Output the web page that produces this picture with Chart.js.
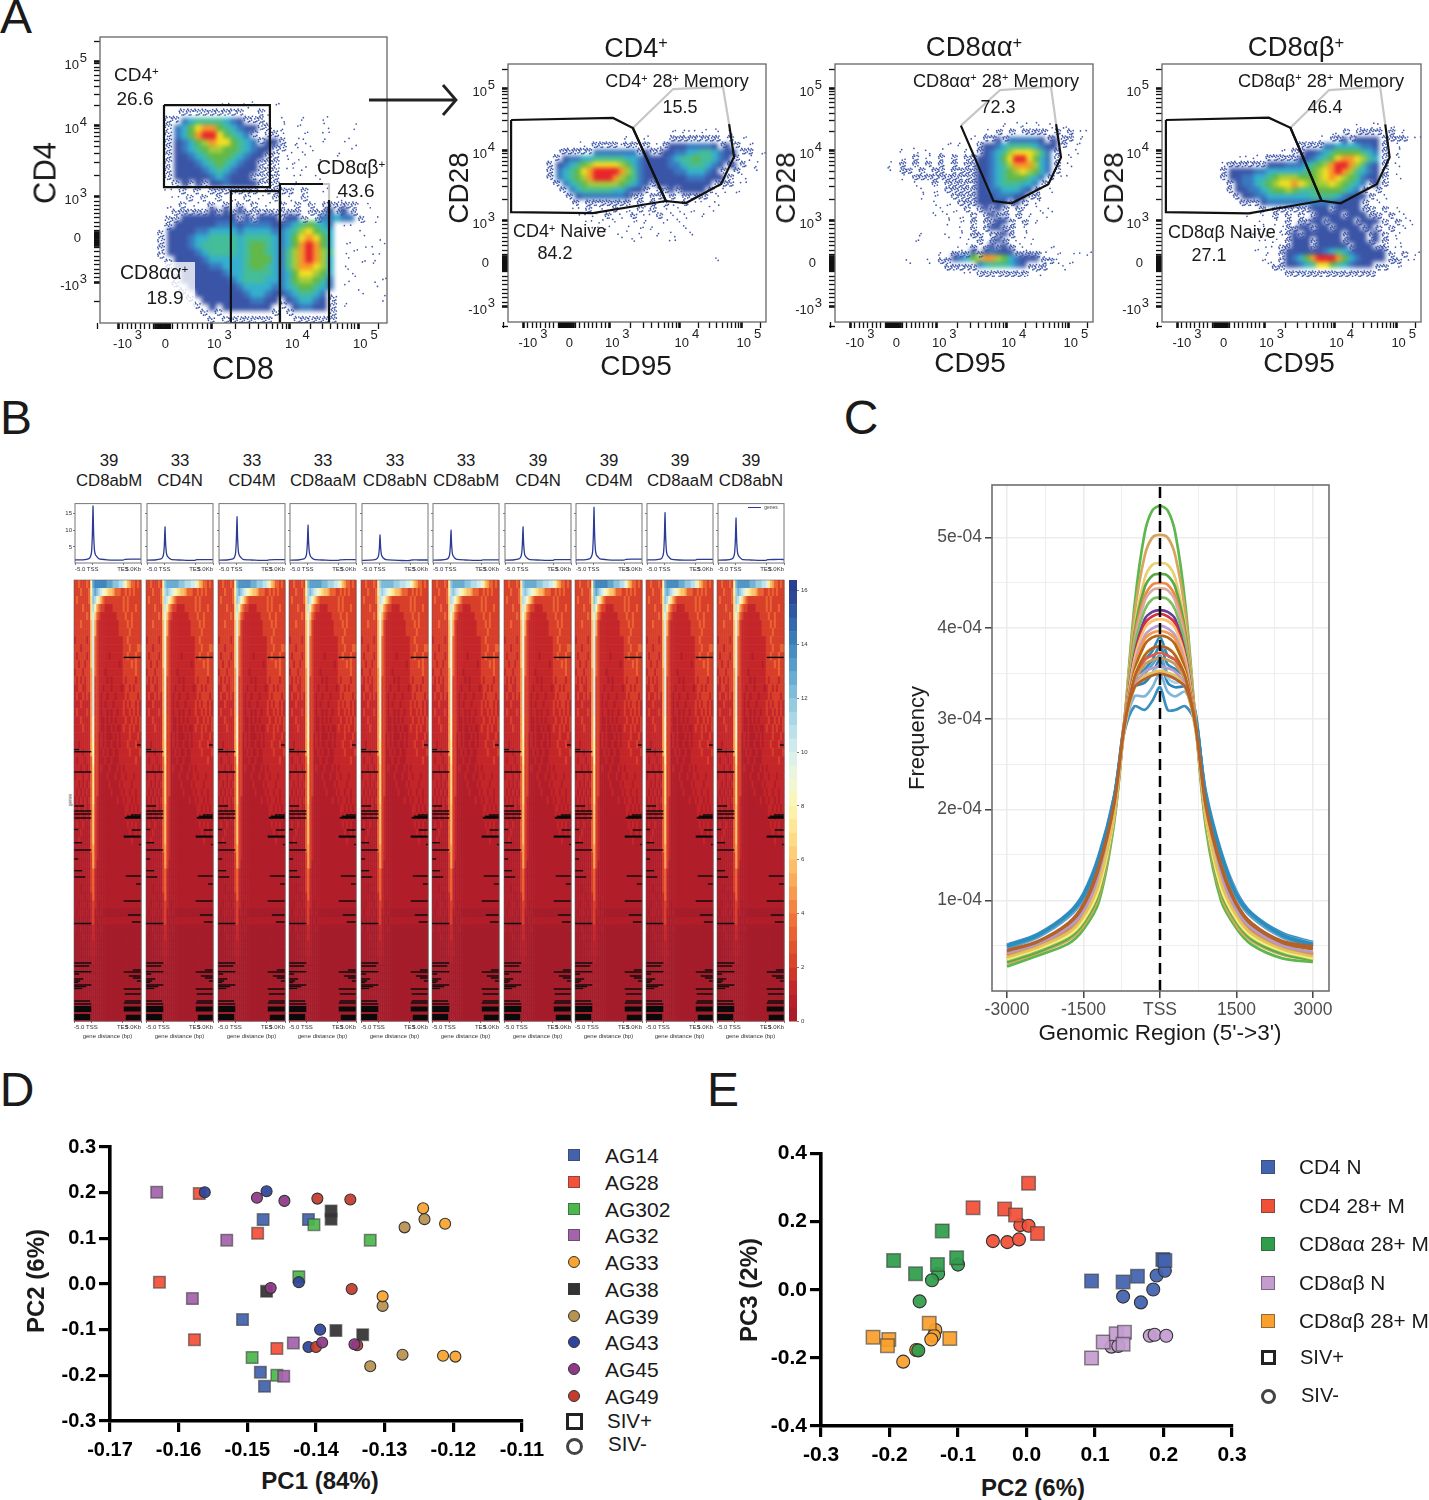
<!DOCTYPE html>
<html>
  <head>
    <meta charset="UTF-8" />
    <title>Flow gating, ATAC heatmaps and PCA panels</title>
    <script src="https://cdn.jsdelivr.net/npm/chart.js"></script>
    <style>
      html, body { margin: 0; padding: 0; background: #fff; }
      #page {
        position: relative; width: 1429px; height: 1500px; overflow: hidden;
        font-family: "Liberation Sans", Arial, sans-serif; color: #1a1a1a;
      }
      .t { position: absolute; white-space: nowrap; line-height: 1; }
      .t sup { font-size: 0.6em; line-height: 0; vertical-align: 0.5em; }
      .mk { position: absolute; box-sizing: border-box; }
      canvas { position: absolute; }
    </style>
  </head>
  <body>
    <div id="page"></div>
    <script>
      // ---------- panel A: density grids (40 x 40 cells over the plot)
      // digit = density level, "," = speckled events, "." = a few stray events
      const densityCD8 = [
        "", "", "", "", "", "", "", "", "",
        "                 .  ..  .",
        "           111111111  ,.",
        "         112344443211,,  .  .  .",
        "         1235788543211,, . .   .   .",
        "         1235899754321 1,.  .  .",
        "         1123568775432111, ..  .  .",
        "         112345665543211,, . .     .",
        "         11123455543211,, . .    .",
        "         1111234543211,,, ..  .",
        "         1111123432111,,, . .",
        "         111111232111,,,,  .  .",
        "          ,111111211111,,  .",
        "         . , , ,,,1,,, ,,,, ,  .",
        "          . , , , . , . , . ,    .",
        "         . , . , , , , . , , , ,,,,, .",
        "          ,,1,,1,1,1,,1,1,,1 ,1,1,1,",
        "         ,,11111111,1,111,111 1223221 .",
        "         1111111222122221" + "12345432 .",
        "        11111223333233332" + "23467543   .   .",
        "        11112334444344443" + "23578753 .    .",
        "        11112344444345543" + "23589853  . .    .",
        "        11111234444345543" + "24689864 .   .   .",
        "         1111123333345553" + "24689863   . .",
        "         1111112233345543" + "24688763 .      . .",
        "          111111123344443" + "23577653  .   .  .",
        "          111111112344433" + "23566542 .   .",
        "           11111111233332" + "23455432   .",
        "            1111111123321" + "12344321      .  .",
        "             111111112211" + "11233211 .",
        "              11111111111" + " 1122111",
        "               , 1111111" + "   111111",
      ];
      const densityCD4 = [
        "", "", "", "", "", "", "", "", "", "",
        "                         . .. . . .",
        "                  .  .   ,,,,,,,, , .",
        "           . ,,,,.,,.1 .111122221111 .",
        "        111112222222111111223344321111 .",
        "       11223344444332111123445443211 .",
        "      1123456777765321111223444321111 .",
        "      1234578999986421111122333211 ,  .",
        "      12345689998654211111112221111 .",
        "       1234566666543211111111111111 .",
        "        12344444332111 111111111 . .",
        "         112222222111 ,, , ,,,, .",
        "          , ,,,,,,, , , ,. , .  .",
        "          . , . , . ,., . . .  .",
        "           . . , . , . , . .  .",
        "            . . .  . .  . .",
        "             . .  . . .    .",
        "                 .  .  . .  .",
        "                   .     .",
        "", "",
        "                                .",
      ];
      const densityAA = [
        "", "", "", "", "", "", "", "", "",
        "                          . .. . . .",
        "                       . , , ,,,, , , .",
        "                     . ,111222221111, .",
        "                 . .  " + "11123444432111 .",
        "          . . . .   . " + "1123467776421  .",
        "          . , . , , ,," + "1123579975321 .",
        "        . , , , , , ,," + "1123468886321 .",
        "        . ,, , ,, ,,,," + "1123456765321",
        "          . ,,,,,,,,,," + "112345554321 .",
        "            .  , ,,,,," + "11234443321",
        "             . . ,,,,," + "1122333211 .",
        "             . .  ,,,," + "1112221111",
        "               . . ,,," + "11111111 .",
        "                . . , ,1,1, ,. . .",
        "               . . . , 11,1 , . .",
        "                 . . , 1,11, , .",
        "                   . , 111,, .",
        "             .   . . ,, 1,1, .",
        "            .       . , 11, . .",
        "                   . , ,1,1, .   .",
        "                . ,,,1112111,,,,. .  . .",
        "           .  . ,1123568865321111,. .",
        "                 ,11112344432111,  .",
        "                    . ,,,,,,,, .",
      ];
      const densityAB = [
        "", "", "", "", "", "", "", "", "",
        "                              . .. .",
        "                          . , ,,,, , .",
        "                        . ,1111111111, .",
        "                     11112233332211 .",
        "                  . ,," + "1123455554321 .",
        "            . . ,,,,,1" + "1234578876431 .",
        "         .,,1111111222" + "3456899864211 .",
        "         1111122333333" + "4567898643211",
        "         1112233456665" + "5567876542111 .",
        "          112234567787" + "6566765432111",
        "          111223455654" + "4455554321 ,",
        "           11122333333" + "34444321111 .",
        "            1111222222" + "2222211111 .",
        "               , ,,,,," + "1111,1111,1 , .",
        "             . . , , , ,1111,111,1 , .",
        "               . . , ,111,1111,111, , .",
        "               .  .,111,11,1111,11 , .",
        "              . . .,1,111111,111,11 .",
        "               . . 1111,1111,111,1, .",
        "              . . ,,111,11111,111,, .",
        "                . ,11111123432111111 , .",
        "               .. 1123589998532111111 .",
        "                 111123477543211111 .",
        "                   ,,,,,,,,,,,,,,",
      ];
      // where the events of a speckled cell fall inside it
      const strayOffsets = [[-0.38, 0.12], [0.21, -0.33], [-0.07, 0.41], [0.36, 0.27], [-0.26, -0.41], [0.08, -0.04], [0.44, -0.18], [-0.44, -0.12], [0.17, 0.38], [-0.16, -0.21]];
      // decade positions on the biexponential channel axis (-10^3, 0, 10^3, 10^4, 10^5)
      const channelTicksAx = [63, 219, 390, 662, 899];
      const channelTicksAy = [143, 294, 441, 692, 916];
      const channelTicks = [60, 228, 395, 665, 905];
      const decadeLabels = [["-10", "3"], ["0", ""], ["10", "3"], ["10", "4"], ["10", "5"]];
      const densityLevelColors = ["#3a54a6", "#3a78bf", "#35b0cc", "#45bd98", "#62b848", "#a4cc3a", "#f3df22", "#f6982a", "#e8242c"];

      // gates in channel units
      const gateCD4Cells = [[223, 762], [592, 762], [592, 475], [223, 475], [223, 762]];
      const gateAACells = [[456, 0], [456, 461], [627, 461], [627, 0], [456, 0]];
      const gateABBlack1 = [[777, 486], [627, 486], [627, 0], [798, 0], [798, 430]];
      const gateABGrey = [[798, 430], [798, 486], [777, 486]];
      const gateNaive = [[12, 783], [407, 791], [484, 752], [612, 469], [329, 422], [12, 426], [12, 783]];
      const gateMemBlack = [[484, 752], [612, 469], [690, 461], [826, 535], [876, 640], [857, 767]];
      const gateMemGrey = [[857, 767], [833, 911], [640, 903], [484, 752]];
      const gateAAMemBlack = [[488, 761], [614, 469], [685, 460], [827, 534], [876, 638], [857, 767]];
      const gateAAMemGrey = [[857, 767], [837, 912], [640, 899], [488, 761]];
      const gateABNaive = [[15, 783], [412, 792], [496, 753], [616, 470], [335, 421], [15, 426], [15, 783]];
      const gateABMemBlack = [[496, 753], [616, 470], [690, 460], [829, 534], [879, 638], [862, 766]];
      const gateABMemGrey = [[862, 766], [842, 912], [645, 899], [496, 753]];

      // ---------- panel B
      const panelNames = ["CD8abM", "CD4N", "CD4M", "CD8aaM", "CD8abN", "CD8abM", "CD4N", "CD4M", "CD8aaM", "CD8abN"];
      const panelDonors = ["39", "33", "33", "33", "33", "33", "39", "39", "39", "39"];
      const ridgeGain = [1, 0.88, 0.96, 0.92, 0.84, 0.88, 0.88, 1, 0.98, 0.95];
      const profileBins = [0, 4, 7, 7.8, 8.3, 8.7, 9, 9.3, 9.7, 10.2, 11, 12, 16, 20, 24, 25, 28, 33];
      const profileValues = [
        [1.1, 1.15, 1.5, 2.2, 3.6, 9, 17.2, 9.5, 4.2, 2.7, 2, 1.4, 1.15, 1.05, 1.05, 1.3, 1.35, 1.35],
        [1.05, 1.1, 1.4, 1.9, 2.9, 6, 11, 6.2, 3.2, 2.2, 1.7, 1.3, 1.1, 1, 1, 1.2, 1.2, 1.2],
        [1.05, 1.1, 1.4, 2, 3.2, 7.5, 14, 7.8, 3.6, 2.4, 1.8, 1.3, 1.1, 1, 1, 1.15, 1.2, 1.2],
        [1.05, 1.1, 1.4, 1.9, 3, 6.3, 11.5, 6.5, 3.3, 2.3, 1.7, 1.3, 1.1, 1, 1, 1.15, 1.2, 1.2],
        [1, 1.05, 1.3, 1.7, 2.5, 4.8, 8.6, 5, 2.7, 2, 1.5, 1.2, 1.05, 0.95, 0.95, 1.1, 1.1, 1.1],
        [1.05, 1.1, 1.35, 1.8, 2.7, 5.6, 10, 5.8, 3, 2.2, 1.6, 1.25, 1.1, 1, 1, 1.15, 1.15, 1.15],
        [1.05, 1.1, 1.4, 1.9, 2.9, 6, 11, 6.2, 3.2, 2.2, 1.7, 1.3, 1.1, 1, 1, 1.2, 1.2, 1.2],
        [1.1, 1.15, 1.5, 2.2, 3.5, 8.8, 16.8, 9.2, 4.1, 2.6, 2, 1.4, 1.15, 1.05, 1.05, 1.3, 1.35, 1.35],
        [1.1, 1.15, 1.45, 2.1, 3.4, 8, 15.2, 8.5, 3.9, 2.5, 1.9, 1.35, 1.1, 1.05, 1.05, 1.25, 1.3, 1.3],
        [1.05, 1.1, 1.45, 2, 3.2, 7.3, 13.6, 7.6, 3.6, 2.4, 1.8, 1.3, 1.1, 1, 1, 1.2, 1.25, 1.25],
      ];
      const binTicks = [0, 8.8, 24, 33];
      const binTickLabels = ["-5.0", "TSS", "TES", "5.0Kb"];
      // 55 gene rows x 33 bins, signal 0-16 written in base 17 (short rows repeat their last digit)
      const heatRows = [
        "334333438deeeeeedddcccbba86544343", "333433348cdcba98766544433434343", "343333347cb975433333333343433",
        "333343337b8543322223333343433343", "333333437a6432222222233334334333", "333433336a5322222222223333434333",
        "333333336a5322222222223333343333", "233333236a4322222222222233433333", "333233336a4322222222222233343334",
        "323333236a4322222122222233433343", "332332336a43222222222212333343433", "233323335a43222122222222333333433",
        "323232335a33222212122222323333233", "223322335a33221222122221233232333", "232232325a33212212221222232333323",
        "222322225a33212122212222323233232", "232222325a33212212122122322323232", "222322225933211212121222232232323",
        "222232225933211211212112322323223", "222222225933121211121212222322232", "221222225833121211211212223222322",
        "222212225833112121121122222322223", "212221224833111211211122222222322", "222122124733121112111212122222222",
        "122212214733111121112112212221222", "221212124733111112111121222212222", "212121214733111111211112122122122",
        "121212124732111111111211212212122", "212112114632111111111111122121212", "111211214632111111111111121212121",
        "121121114632111111111111112121211", "111211114632111111111111111211212", "112111114632111111111111111121111",
        "111111114532111", "111111113532111", "111111113531111", "111111113421111", "111111113421111", "111011113421111",
        "111110112421111", "110111012321011", "101110102311010", "010101002310101", "100100001210010", "000010001210000",
        "000000001110000", "000000001110000", "000000000100000", "0", "0", "0", "0", "0", "0", "0",
      ];
      const heatRank = 441; // rows of the sorted gene list, on the y axis
      const heatBins = 33;
      // how the low digits of heatRows sit on the colour scale
      const lowSignalValues = [0, 0.45, 1.2, 2.1];
      // missing data: [rank, last bin, thickness]
      const gapsLeft = [
        [169.5, 2.5, 1.4], [171.7, 8.5, 1.4], [192, 8.5, 1.4], [226, 5, 1.4], [231, 8.5, 1.4], [234, 8.5, 1.4], [238, 8.5, 1.4],
        [249.5, 2, 1.4], [262.7, 4, 1.4], [270, 8.5, 1.4], [279, 2, 1.4], [290.7, 4, 1.4], [297, 5.5, 1.4], [343.5, 8.5, 1.4],
        [383, 8.5, 1.4], [386, 7.5, 1.4], [391.7, 8.5, 1.4], [394, 2.5, 1.4], [399, 4.5, 1.4], [401, 3, 1.4], [402.5, 2, 1.2],
        [405, 8.5, 1.4], [406.7, 6, 1.2], [408.5, 4, 1.2], [421, 8, 1.4], [424, 8.5, 1.4], [429, 8.5, 6], [437, 8, 6],
      ];
      const gapsRight = [
        [77.4, 24.5, 1.4], [165, 31, 1.4], [235, 28, 1.4], [236.3, 26, 1.4], [237.8, 25, 2], [250, 28.5, 1.4], [256.6, 24.5, 2.2],
        [264.5, 32, 1.4], [296, 25.5, 1.4], [304, 30.5, 1.4], [321, 24.5, 1.4], [335, 26.5, 1.4], [342, 28.5, 1.4],
        [390, 29, 1.4], [392, 24.5, 1.4], [396, 27, 1.4], [398, 29, 1.4], [401, 31, 1.4], [409, 24.5, 1.4], [414, 25, 1.4],
        [421, 25, 1.4], [423, 24.5, 1.4], [429, 24.5, 5], [437.5, 25.5, 5.5],
      ];
      const colorbarLevels = [16.4, 16, 15.5, 15, 14.5, 14, 13.5, 13, 12.5, 12, 11.5, 11, 10.5, 10, 9.5, 9, 8.5, 8, 7.5, 7, 6.5, 6, 5.5, 5, 4.5, 4, 3.5, 3, 2.5, 2, 1.5, 1, 0.5, 0];
      const signalColors = ["#a51c2b", "#bf2129", "#d63c2a", "#e65a2e", "#f47a3c", "#f9a352", "#fdc672", "#fde28a", "#fdf5b0", "#f0f7d8", "#d6eeee", "#b4ddea", "#8ac4de", "#5fa5ce", "#3f85bd", "#3060a8", "#2a3f90"];

      // ---------- panel C: coverage around TSS, frequency x 1e-5
      const tssPositions = [-3000, -2400, -1800, -1500, -1200, -900, -700, -500, -300, -150, 0, 150, 300, 500, 700, 900, 1200, 1500, 1800, 2400, 3000];
      const freqBlue1 = [5.1, 6.3, 8.6, 10.8, 15, 21.5, 28.5, 31.4, 31, 32, 33.5, 31, 31, 31.4, 29.5, 22, 15.4, 11, 8.6, 6.4, 5.4];
      const freqBlue2 = [5, 6.1, 8.4, 10.5, 14.6, 21.3, 28.8, 32.5, 32.5, 33.5, 35, 33, 32.5, 33, 29.8, 21.5, 15, 10.8, 8.4, 6.2, 5.3];
      const freqBlue3 = [4.9, 6, 8.3, 10.3, 14.4, 21.2, 29, 33.5, 34, 35, 36.5, 34, 33.5, 33.5, 30.2, 21.5, 15, 10.6, 8.3, 6.1, 5.1];
      const freqBlue4 = [4.8, 6, 8.2, 10.2, 14.2, 21, 29.2, 33.5, 34.5, 35, 36, 34.5, 34, 34, 30.2, 21.4, 14.8, 10.4, 8.2, 6, 5];
      const freqBlue5 = [5, 6.2, 8.5, 10.6, 14.8, 21.5, 29.5, 34.5, 35.5, 36.5, 38, 36, 35.5, 34.5, 30.5, 21.7, 15.1, 10.7, 8.5, 6.2, 5.2];
      const freqBlue6 = [4.7, 5.9, 8.1, 10.1, 14.1, 21, 29.2, 34, 35, 36, 37, 35, 34.5, 34, 30.2, 21.3, 14.6, 10.3, 8.1, 5.9, 4.9];
      const freqBlue7 = [4.9, 6.1, 8.4, 10.4, 14.5, 21.3, 29.6, 35, 36.5, 37.5, 39, 37, 36.5, 35, 30.6, 21.5, 14.9, 10.5, 8.4, 6.1, 5];
      const freqGreen1 = [2.7, 3.9, 5.2, 6.8, 9.8, 18.5, 29.5, 42.5, 50.5, 53, 53.5, 53, 50.5, 42.5, 29.5, 18, 9.9, 6.9, 5.1, 3.6, 3.2];
      const freqTan1 = [3, 4.2, 5.6, 7.2, 10.4, 18.8, 29.6, 41.5, 48, 50, 50.3, 50, 48, 41.5, 29.6, 18.5, 10.5, 7.2, 5.5, 4, 3.4];
      const freqYellow1 = [3.3, 4.4, 5.9, 7.6, 10.9, 19, 29.8, 40, 45.5, 47, 47.2, 47, 45.5, 40, 29.8, 18.8, 11, 7.7, 5.8, 4.2, 3.5];
      const freqGreen2 = [3.2, 4.3, 5.8, 7.5, 10.8, 18.9, 29.6, 39.5, 44.5, 45.8, 46, 45.8, 44.5, 39.5, 29.6, 18.7, 10.9, 7.6, 5.7, 4.1, 3.4];
      const freqOrange1 = [3.6, 4.7, 6.3, 8, 11.6, 19.3, 29.7, 39, 43.5, 44.8, 45, 44.8, 43.5, 39, 29.7, 19.1, 11.7, 8.1, 6.2, 4.5, 3.7];
      const freqPink = [3.7, 4.8, 6.4, 8.1, 11.7, 19.3, 29.5, 38.5, 43, 44.2, 44.4, 44.2, 43, 38.5, 29.5, 19.1, 11.8, 8.2, 6.3, 4.6, 3.8];
      const freqGreen3 = [3.4, 4.5, 6, 7.7, 11.1, 19.1, 29.4, 38, 42, 43.2, 43.4, 43.2, 42, 38, 29.4, 18.9, 11.2, 7.8, 5.9, 4.3, 3.5];
      const freqPurple = [3.6, 4.6, 6.2, 7.9, 11.4, 19.3, 29.2, 37, 41, 41.8, 42, 41.8, 41, 37, 29.2, 19.1, 11.5, 8, 6.1, 4.5, 3.7];
      const freqRed = [3.9, 5, 6.6, 8.4, 12, 19.5, 29.4, 36.8, 40.5, 41.3, 41.6, 41.3, 40.5, 36.8, 29.4, 19.3, 12.1, 8.5, 6.5, 4.8, 4];
      const freqLightOrange = [3.8, 4.9, 6.5, 8.3, 11.9, 19.5, 29.4, 36.6, 40, 40.8, 41, 40.8, 40, 36.6, 29.4, 19.3, 12, 8.4, 6.4, 4.7, 3.9];
      const freqLavender = [4, 5.1, 6.8, 8.6, 12.3, 19.7, 29.3, 36, 39.2, 40, 40.3, 40, 39.2, 36, 29.3, 19.5, 12.4, 8.7, 6.7, 4.9, 4.1];
      const freqOrange2 = [4.1, 5.2, 6.9, 8.7, 12.5, 19.8, 29.2, 35.6, 38.8, 39.5, 39.7, 39.5, 38.8, 35.6, 29.2, 19.6, 12.6, 8.8, 6.8, 5, 4.2];
      const freqBrown1 = [4.3, 5.3, 7.2, 9.1, 13, 20.2, 29.3, 35.3, 38.2, 39, 39.2, 39, 38.2, 35.3, 29.3, 20, 13.1, 9.2, 7.1, 5.2, 4.6];
      const freqPaleYellow = [3.5, 4.6, 6.1, 7.8, 11.2, 19.2, 29, 34.8, 37.2, 37.8, 38, 37.8, 37.2, 34.8, 29, 19, 11.3, 7.9, 6, 4.4, 3.6];
      const freqTomato = [4, 5.1, 6.7, 8.5, 12.2, 19.7, 29, 34.4, 36.5, 37, 37.3, 37, 36.5, 34.4, 29, 19.5, 12.3, 8.6, 6.6, 4.9, 4.1];
      const freqTan2 = [3.9, 5, 6.6, 8.4, 12.1, 19.6, 28.9, 34.1, 36, 36.5, 36.7, 36.5, 36, 34.1, 28.9, 19.4, 12.2, 8.5, 6.5, 4.8, 4];
      const freqMauve = [4.2, 5.2, 7, 8.8, 12.6, 19.9, 28.8, 33.6, 35.2, 35.6, 35.8, 35.6, 35.2, 33.6, 28.8, 19.7, 12.7, 8.9, 6.9, 5, 4.3];
      const freqGold = [3.7, 4.8, 6.4, 8.2, 11.8, 19.5, 28.7, 33.4, 34.8, 35.1, 35.3, 35.1, 34.8, 33.4, 28.7, 19.3, 11.9, 8.3, 6.3, 4.6, 3.8];
      const freqBrown2 = [4.4, 5.4, 7.4, 9.4, 13.5, 20.5, 29.3, 33.5, 34.4, 34.8, 35, 34.8, 34.4, 33.5, 29.3, 20.3, 13.6, 9.5, 7.3, 5.4, 4.8];
      const freqBrown3 = [4.5, 5.5, 7.5, 9.6, 13.8, 20.7, 29.1, 34.6, 37, 37.8, 38, 37.8, 37, 34.6, 29.1, 20.5, 13.9, 9.7, 7.5, 5.5, 4.9];
      const freqTickValues = [5, 10, 15, 20, 25, 30, 35, 40, 45, 50];
      const freqTickLabels = ["", "1e-04", "", "2e-04", "", "3e-04", "", "4e-04", "", "5e-04"];
      const regionTickValues = [-3000, -2250, -1500, -750, 0, 750, 1500, 2250, 3000];
      const regionTickLabels = ["-3000", "", "-1500", "", "TSS", "", "1500", "", "3000"];

      // ---------- panel D: PC1 / PC2 by animal
      const ag14 = [[-0.1477, 0.141], [-0.1411, 0.141], [-0.1507, -0.078], [-0.1481, -0.193], [-0.1475, -0.224]];
      const ag28 = [[-0.157, 0.198], [-0.1485, 0.111], [-0.1628, 0.004], [-0.1577, -0.122], [-0.1457, -0.141]];
      const ag302 = [[-0.1403, 0.13], [-0.1321, 0.096], [-0.1425, 0.016], [-0.1493, -0.161], [-0.1457, -0.2]];
      const ag32 = [[-0.1632, 0.201], [-0.153, 0.096], [-0.158, -0.032], [-0.1433, -0.129], [-0.1447, -0.202]];
      const ag33 = [[-0.1244, 0.166], [-0.1212, 0.132], [-0.1303, -0.027], [-0.1215, -0.157], [-0.1197, -0.159]];
      const ag38 = [[-0.1378, 0.16], [-0.1378, 0.142], [-0.1472, -0.016], [-0.1371, -0.102], [-0.1332, -0.111]];
      const ag39 = [[-0.1271, 0.124], [-0.1242, 0.142], [-0.1303, -0.048], [-0.1321, -0.18], [-0.1274, -0.155]];
      const ag43 = [[-0.1562, 0.201], [-0.1472, 0.203], [-0.1425, 0.004], [-0.1394, -0.1], [-0.1411, -0.138]];
      const ag45 = [[-0.1486, 0.189], [-0.1446, 0.182], [-0.1466, -0.009], [-0.1391, -0.128], [-0.1344, -0.132]];
      const ag49 = [[-0.1398, 0.187], [-0.135, 0.185], [-0.1348, -0.011], [-0.14, -0.138], [-0.134, -0.134]];
      const pc1Ticks = [-0.17, -0.16, -0.15, -0.14, -0.13, -0.12, -0.11];
      const pc2Ticks = [-0.3, -0.2, -0.1, 0, 0.1, 0.2, 0.3];
      const animalNames = ["AG14", "AG28", "AG302", "AG32", "AG33", "AG38", "AG39", "AG43", "AG45", "AG49"];
      const animalColors = ["#4463ae", "#f4503a", "#4cb84c", "#a463ac", "#faa32e", "#333333", "#b8924f", "#2f459c", "#8f3a88", "#c33c2e"];
      const animalShapes = ["rect", "rect", "rect", "rect", "circle", "rect", "circle", "circle", "circle", "circle"];

      // ---------- panel E: PC2 / PC3 by cell type
      const cd4NaivePlus = [[0.095, 0.026], [0.141, 0.023], [0.162, 0.04], [0.199, 0.089], [0.202, 0.086]];
      const cd4NaiveMinus = [[0.141, -0.02], [0.167, -0.037], [0.185, 0.001], [0.19, 0.042], [0.202, 0.056]];
      const cd4MemPlus = [[0.003, 0.313], [-0.078, 0.241], [-0.032, 0.237], [-0.016, 0.22], [0.016, 0.165]];
      const cd4MemMinus = [[-0.009, 0.19], [0.003, 0.188], [-0.049, 0.143], [-0.028, 0.14], [-0.011, 0.148]];
      const aaMemPlus = [[-0.123, 0.173], [-0.194, 0.086], [-0.162, 0.047], [-0.13, 0.074], [-0.102, 0.094]];
      const aaMemMinus = [[-0.1, 0.074], [-0.129, 0.047], [-0.138, 0.028], [-0.156, -0.034], [-0.158, -0.178]];
      const abNaivePlus = [[0.095, -0.2], [0.112, -0.153], [0.131, -0.129], [0.143, -0.125], [0.141, -0.16]];
      const abNaiveMinus = [[0.124, -0.167], [0.134, -0.165], [0.18, -0.135], [0.187, -0.132], [0.204, -0.135]];
      const abMemPlus = [[-0.224, -0.139], [-0.201, -0.146], [-0.203, -0.164], [-0.142, -0.098], [-0.112, -0.143]];
      const abMemMinus = [[-0.133, -0.118], [-0.135, -0.135], [-0.139, -0.146], [-0.161, -0.177], [-0.18, -0.211]];
      const ePc2Ticks = [-0.3, -0.2, -0.1, 0, 0.1, 0.2, 0.3];
      const pc3Ticks = [-0.4, -0.2, 0, 0.2, 0.4];
      const cellNames = ["CD4 N", "CD4 28+ M", "CD8αα 28+ M", "CD8αβ N", "CD8αβ 28+ M"];
      const cellColors = ["#4263b0", "#f24f38", "#2f9e4c", "#c49cd0", "#faa02c"];

      // ---------- helpers
      const page = document.getElementById("page");
      const FONT = "'Liberation Sans', Arial, sans-serif";

      function label(html, x, y, size, opt = {}) {
        const el = document.createElement("div");
        el.className = "t";
        el.innerHTML = html;
        el.style.fontSize = size + "px";
        el.style.left = x + "px";
        el.style.top = y + "px";
        if (opt.bold) el.style.fontWeight = "bold";
        if (opt.color) el.style.color = opt.color;
        const dx = opt.left ? "0" : "-50%";
        el.style.transform = `translate(${dx},-50%)` + (opt.rot ? ` rotate(${opt.rot}deg)` : "");
        page.appendChild(el);
      }

      // canvas = plot rectangle + margins, the chart area ends up exactly on plot
      function place(plot, m, blur) {
        const c = document.createElement("canvas");
        c.width = plot.w + m.l + m.r;
        c.height = plot.h + m.t + m.b;
        c.style.left = plot.x - m.l + "px";
        c.style.top = plot.y - m.t + "px";
        if (blur) c.style.filter = `blur(${blur}px)`;
        page.appendChild(c);
        return c;
      }
      function baseOptions(m, scales) {
        return {
          responsive: false,
          animation: false,
          devicePixelRatio: 1,
          events: [],
          layout: { padding: { left: 0, top: m.t, right: m.r, bottom: 0 } },
          plugins: { legend: { display: false }, tooltip: { enabled: false } },
          scales,
        };
      }
      const fixHeight = (h) => (s) => { s.height = h; };
      const fixWidth = (w) => (s) => { s.width = w; };
      const setTicks = (list) => (s) => { s.ticks = list.map((t) => (typeof t === "number" ? { value: t } : t)); };
      const framePlugin = (color, width) => ({
        id: "frame",
        afterDraw(chart) {
          const a = chart.chartArea, ctx = chart.ctx;
          ctx.save();
          ctx.strokeStyle = color;
          ctx.lineWidth = width;
          ctx.strokeRect(a.left, a.top, a.right - a.left, a.bottom - a.top);
          ctx.restore();
        },
      });

      function cellsOf(grid) {
        const out = { stray: [] };
        const at = (r, c) => (grid[r] || "")[c] || " ";
        const open = (ch) => ch === " " || ch === ".";
        const toPoint = (r, c, k) => {
          const [ox, oy] = strayOffsets[k % strayOffsets.length];
          return { x: (c + 0.5 + ox) * 25, y: 1000 - (r + 0.5 + oy) * 25 };
        };
        grid.forEach((row, r) => {
          [...row].forEach((ch, c) => {
            if (ch === " ") return;
            const start = r * 3 + c * 7;
            // outermost level-1 cells are speckled rather than solid
            const edge = ch === "1" && (open(at(r - 1, c)) || open(at(r + 1, c)) || open(at(r, c - 1)) || open(at(r, c + 1)));
            if (ch === "." || ch === "," || edge) {
              const n = ch === "." ? 2 : 9;
              for (let k = 0; k < n; k++) out.stray.push(toPoint(r, c, start + k));
              return;
            }
            (out[ch] = out[ch] || []).push({ x: (c + 0.5) * 25, y: 1000 - (r + 0.5) * 25 });
          });
        });
        return out;
      }

      function axisTicks(maj) {
        const [neg, zero, c3, c4, c5] = maj;
        const out = maj.map((v) => ({ value: v, major: true }));
        const steps = [0.03, 0.06, 0.09, 0.12, 0.16, 0.2, 0.3, 0.4, 0.5, 0.6, 0.7, 0.8, 0.9];
        steps.forEach((f) => {
          out.push({ value: zero + (c3 - zero) * f });
          out.push({ value: zero - (zero - neg) * f });
        });
        for (let k = 2; k < 10; k++) {
          out.push({ value: c3 + (c4 - c3) * Math.log10(k) });
          out.push({ value: c4 + (c5 - c4) * Math.log10(k) });
        }
        out.push({ value: c5 + (c5 - c4) * 0.3 });
        out.push({ value: neg - (zero - neg) * 0.45 });
        [4, 8, 12, 16, 20, 24].forEach((d) => out.push({ value: zero + d, major: true }, { value: zero - d, major: true }));
        return out;
      }

      const decadePlugin = (xMaj, yMaj) => ({
        id: "decades",
        afterDraw(chart) {
          const ctx = chart.ctx, a = chart.chartArea, sx = chart.scales.x, sy = chart.scales.y;
          ctx.save();
          ctx.fillStyle = "#222";
          ctx.font = "13px " + FONT;
          ctx.textBaseline = "middle";
          decadeLabels.forEach(([base, exp], i) => {
            const px = sx.getPixelForValue(xMaj[i]);
            const by = a.bottom + 21;
            ctx.textAlign = "left";
            if (!exp) {
              ctx.fillText(base, px - 1, by);
            } else {
              const w = ctx.measureText(base).width;
              const x0 = px - 5;
              ctx.fillText(base, x0, by);
              ctx.fillText(exp, x0 + w + 3, by - 9);
            }
            const py = sy.getPixelForValue(yMaj[i]);
            ctx.textAlign = "right";
            if (!exp) {
              ctx.fillText(base, a.left - 19, py);
            } else {
              ctx.fillText(exp, a.left - 13, py - 3);
              ctx.fillText(base, a.left - 21, py + 4);
            }
          });
          ctx.restore();
        },
      });

      function flowPanel(plot, grid, xMaj, yMaj, gatesBlack, gatesGrey) {
        const cells = cellsOf(grid);
        const cellW = plot.w / 40;
        const under = { l: 0, t: 0, r: 0, b: 0 };
        const levels = [];
        densityLevelColors.forEach((color, i) => {
          levels.push({
            data: cells[String(i + 1)] || [],
            pointStyle: "rect",
            pointRadius: cellW / 1.414 + 0.4,
            pointBorderWidth: 0,
            backgroundColor: color,
          });
        });
        new Chart(place(plot, under, 2.3), {
          type: "scatter",
          data: { datasets: levels.reverse() },
          options: baseOptions(under, {
            x: { display: false, min: 0, max: 1000 },
            y: { display: false, min: 0, max: 1000 },
          }),
        });
        const m = { l: 62, t: 6, r: 6, b: 34 };
        const toXY = (g) => g.map(([x, y]) => ({ x, y }));
        const line = (g, color) => ({
          data: toXY(g), showLine: true, borderColor: color, borderWidth: 2.2, pointRadius: 0, fill: false, tension: 0,
        });
        const sets = [
          ...gatesBlack.map((g) => line(g, "#111")),
          ...gatesGrey.map((g) => line(g, "#c6c6c6")),
          { data: cells.stray, pointRadius: 0.85, pointBorderWidth: 0, backgroundColor: "#3f57a8" },
        ];
        const axis = (maj, afterFit) => ({
          min: 0, max: 1000,
          afterBuildTicks: setTicks(axisTicks(maj)),
          afterFit,
          border: { display: false },
          ticks: { display: false, autoSkip: false },
          grid: {
            drawOnChartArea: false, color: "#111", tickLength: 6,
            tickWidth: (c) => (c.tick && c.tick.major ? 2.6 : 1.3),
          },
        });
        new Chart(place(plot, m), {
          type: "scatter",
          data: { datasets: sets },
          options: baseOptions(m, { x: axis(xMaj, fixHeight(m.b)), y: axis(yMaj, fixWidth(m.l)) }),
          plugins: [framePlugin("#666", 1.3), decadePlugin(xMaj, yMaj)],
        });
      }

      function signalColor(v) {
        const lo = Math.max(0, Math.min(16, Math.floor(v)));
        const hi = Math.min(16, lo + 1);
        const t = Math.max(0, Math.min(1, v - lo));
        const hex = (s, i) => parseInt(s.substr(1 + i * 2, 2), 16);
        const mix = (i) => Math.round(hex(signalColors[lo], i) * (1 - t) + hex(signalColors[hi], i) * t);
        return `rgb(${mix(0)},${mix(1)},${mix(2)})`;
      }

      const heatPlugin = (gain) => ({
        id: "heatCells",
        beforeDatasetsDraw(chart) {
          const ctx = chart.ctx, sx = chart.scales.x, sy = chart.scales.y;
          const rowH = heatRank / heatRows.length;
          ctx.save();
          heatRows.forEach((row, r) => {
            const y0 = sy.getPixelForValue(r * rowH), y1 = sy.getPixelForValue((r + 1) * rowH);
            for (let c = 0; c < heatBins; c++) {
              const ch = row[Math.min(c, row.length - 1)];
              let v = parseInt(ch, 17);
              if (v <= 3) v = lowSignalValues[v];
              else if (v === 4) v = 3.3;
              else v = 4 + (v - 4) * gain;
              ctx.fillStyle = signalColor(v);
              const x0 = sx.getPixelForValue(c), x1 = sx.getPixelForValue(c + 1);
              ctx.fillRect(x0, y0, x1 - x0 + 0.5, y1 - y0 + 0.5);
            }
          });
          ctx.fillStyle = "#0a0a0a";
          gapsLeft.forEach(([rank, bin, th]) => {
            const y = sy.getPixelForValue(rank), x0 = sx.getPixelForValue(0), x1 = sx.getPixelForValue(bin);
            ctx.fillRect(x0, y - th / 2, x1 - x0, th);
          });
          gapsRight.forEach(([rank, bin, th]) => {
            const y = sy.getPixelForValue(rank), x0 = sx.getPixelForValue(bin), x1 = sx.getPixelForValue(heatBins);
            ctx.fillRect(x0, y - th / 2, x1 - x0, th);
          });
          ctx.restore();
        },
      });

      const tinyTicks = { font: { family: FONT, size: 6 }, color: "#333", autoSkip: false, maxRotation: 0, padding: 1, align: "inner" };
      const binAxis = (h, title) => ({
        min: 0, max: heatBins,
        afterBuildTicks: setTicks(binTicks),
        afterFit: fixHeight(h),
        ticks: { ...tinyTicks, callback: (v, i) => binTickLabels[i] },
        grid: { drawOnChartArea: false, tickLength: 2, color: "#444", lineWidth: 0.7 },
        border: { display: false },
        title: title ? { display: true, text: title, font: { family: FONT, size: 6 }, color: "#333", padding: 1 } : { display: false },
      });

      const panelStarts = [75, 147, 218.5, 290, 361.5, 433, 504.5, 575.5, 647, 718];
      const panelCentres = [109, 180, 252, 323, 395, 466, 538, 609, 680, 751];

      function heatPanels() {
        panelStarts.forEach((x, i) => {
          const xr = Math.round(x);
          // peak profile
          const mp = { l: 14, t: 2, r: 3, b: 12 };
          const plotP = { x: xr, y: 501, w: 66, h: 62 };
          new Chart(place(plotP, mp, 0.4), {
            type: "scatter",
            data: {
              datasets: [{
                data: profileBins.map((b, k) => ({ x: b, y: profileValues[i][k] })),
                showLine: true, borderColor: "#2b3a94", borderWidth: 1.3, pointRadius: 0, tension: 0.15,
              }],
            },
            options: baseOptions(mp, {
              x: binAxis(mp.b),
              y: {
                min: 0.2, max: 17.9, afterFit: fixWidth(mp.l),
                afterBuildTicks: setTicks([5, 10, 15]),
                ticks: { font: { family: FONT, size: 6 }, color: "#333", padding: 1, callback: (v) => (i === 0 ? v : "") },
                grid: { drawOnChartArea: false, tickLength: 2, color: "#444", lineWidth: 0.7 },
                border: { display: false },
              },
            }),
            plugins: [framePlugin("#777", 1)],
          });
          // gene by bin heatmap
          const mh = { l: 2, t: 1, r: 3, b: 20 };
          const plotH = { x: xr, y: 580, w: 66, h: 441 };
          new Chart(place(plotH, mh, 0.7), {
            type: "scatter",
            data: { datasets: [] },
            options: baseOptions(mh, {
              x: binAxis(mh.b, "gene distance (bp)"),
              y: { display: false, min: 0, max: heatRank, reverse: true, afterFit: fixWidth(0) },
            }),
            plugins: [heatPlugin(ridgeGain[i]), framePlugin("rgba(90,90,90,.7)", 0.8)],
          });
        });
        // colour scale
        const mc = { l: 0, t: 8, r: 20, b: 8 };
        const plotC = { x: 789, y: 580, w: 8, h: 441 };
        const colorbarOptions = baseOptions(mc, {
          x: { display: false, min: 0, max: 1 },
          y: {
            position: "right", min: 0, max: 16.4, afterFit: fixWidth(mc.r),
            afterBuildTicks: setTicks([0, 2, 4, 6, 8, 10, 12, 14, 16]),
            ticks: { font: { family: FONT, size: 6 }, color: "#333", padding: 2 },
            grid: { drawOnChartArea: false, tickLength: 2, color: "#444", lineWidth: 0.7 },
            border: { display: false },
          },
        });
        colorbarOptions.layout.padding.right = 0;
        colorbarOptions.layout.padding.bottom = mc.b;
        new Chart(place(plotC, mc, 0.3), {
          type: "scatter",
          data: { datasets: [] },
          options: colorbarOptions,
          plugins: [{
            id: "signalScale",
            beforeDatasetsDraw(chart) {
              const ctx = chart.ctx, a = chart.chartArea, sy = chart.scales.y;
              colorbarLevels.slice(0, -1).forEach((v, i) => {
                const y0 = sy.getPixelForValue(v), y1 = sy.getPixelForValue(colorbarLevels[i + 1]);
                ctx.fillStyle = signalColor((v + colorbarLevels[i + 1]) / 2);
                ctx.fillRect(a.left, y0, a.right - a.left, y1 - y0 + 0.5);
              });
            },
          }],
        });
      }

      function coveragePanel() {
        const series = [
          ["#3a8fc2", freqBlue1], ["#7db6d9", freqBlue2], ["#2b83ba", freqBlue3], ["#a6cfe6", freqBlue4], ["#2b8cbe", freqBlue5],
          ["#5ba4cf", freqBlue6], ["#2b8cbe", freqBlue7], ["#5cb84c", freqGreen1], ["#d4a55f", freqTan1], ["#e8d070", freqYellow1],
          ["#5aa846", freqGreen2], ["#ee8844", freqOrange1], ["#d8aaa0", freqPink], ["#7fbf5f", freqGreen3], ["#6a3d9a", freqPurple],
          ["#d6303a", freqRed], ["#fdbf6f", freqLightOrange], ["#b9a0d0", freqLavender], ["#f59a4a", freqOrange2], ["#b5651d", freqBrown1],
          ["#f8ee7a", freqPaleYellow], ["#e85a40", freqTomato], ["#c99a5a", freqTan2], ["#b89ac8", freqMauve], ["#e6c25c", freqGold],
          ["#b5622a", freqBrown3], ["#b5622a", freqBrown2],
        ];
        const m = { l: 80, t: 14, r: 30, b: 30 };
        const plot = { x: 992, y: 485, w: 337, h: 506 };
        const sets = series.map(([color, vals]) => ({
          data: tssPositions.map((x, i) => ({ x, y: vals[i] })),
          showLine: true, borderColor: color, borderWidth: 2.7, pointRadius: 0, tension: 0.3,
        }));
        sets.push({
          data: [{ x: 0, y: 0 }, { x: 0, y: 56 }],
          showLine: true, borderColor: "#000", borderWidth: 2.5, borderDash: [11, 6], pointRadius: 0,
        });
        const gridOpts = {
          color: "#ececec", tickLength: 7,
          lineWidth: (c) => (c.tick && c.tick.major ? 1.6 : 0.9),
          tickColor: (c) => (c.tick && c.tick.major ? "#333" : "rgba(0,0,0,0)"),
          tickWidth: 1.4,
        };
        const tickFont = { family: FONT, size: 17.5 };
        const isMajor = (labels, values) => values.map((v, i) => ({ value: v, major: labels[i] !== "" }));
        new Chart(place(plot, m), {
          type: "scatter",
          data: { datasets: sets.reverse() },
          options: baseOptions(m, {
            x: {
              min: -3294, max: 3314, afterFit: fixHeight(m.b),
              afterBuildTicks: setTicks(isMajor(regionTickLabels, regionTickValues)),
              ticks: { font: tickFont, color: "#4d4d4d", autoSkip: false, maxRotation: 0, padding: 2, callback: (v, i) => regionTickLabels[i] },
              grid: gridOpts, border: { display: false },
            },
            y: {
              min: 0, max: 55.8, afterFit: fixWidth(m.l),
              afterBuildTicks: setTicks(isMajor(freqTickLabels, freqTickValues)),
              ticks: { font: tickFont, color: "#4d4d4d", autoSkip: false, padding: 3, callback: (v, i) => freqTickLabels[i] },
              grid: gridOpts, border: { display: false },
            },
          }),
          plugins: [framePlugin("#6e6e6e", 1.6)],
        });
      }

      function pcaPanel(plot, sets, xTicks, yTicks, xRange, yRange, xFmt, yFmt, fontSize) {
        const m = { l: 70, t: 14, r: 34, b: 44 };
        const axis = (range, ticks, fmt, extra) => ({
          min: range[0], max: range[1],
          afterBuildTicks: setTicks(ticks),
          ticks: { font: { family: FONT, size: fontSize, weight: "bold" }, color: "#000", autoSkip: false, maxRotation: 0, callback: fmt, ...extra.ticks },
          grid: { drawOnChartArea: false, color: "#000", lineWidth: 3.2, tickLength: 11 },
          border: { color: "#000", width: 3.6 },
          afterFit: extra.afterFit,
        });
        new Chart(place(plot, m), {
          type: "scatter",
          data: { datasets: sets.slice().reverse() },
          options: baseOptions(m, {
            x: axis(xRange, xTicks, xFmt, { afterFit: fixHeight(m.b), ticks: { padding: 6 } }),
            y: axis(yRange, yTicks, yFmt, { afterFit: fixWidth(m.l), ticks: { padding: 3 } }),
          }),
        });
      }

      function pcaSet(points, color, shape, size) {
        return {
          data: points.map(([x, y]) => ({ x, y })),
          pointStyle: shape,
          pointRadius: shape === "rect" ? size / 1.414 : size / 2,
          backgroundColor: color + "ee",
          pointBorderColor: shape === "rect" ? "rgba(60,60,60,.6)" : "#333",
          pointBorderWidth: shape === "rect" ? 1.5 : 1.1,
          clip: false,
        };
      }

      // ---------- draw
      flowPanel({ x: 100, y: 37, w: 287, h: 286 }, densityCD8, channelTicksAx, channelTicksAy,
        [gateCD4Cells, gateAACells, gateABBlack1], [gateABGrey]);
      flowPanel({ x: 508, y: 64, w: 258, h: 258 }, densityCD4, channelTicks, channelTicks,
        [gateNaive, gateMemBlack], [gateMemGrey]);
      flowPanel({ x: 835, y: 64, w: 258, h: 258 }, densityAA, channelTicks, channelTicks,
        [gateAAMemBlack], [gateAAMemGrey]);
      flowPanel({ x: 1162, y: 64, w: 259, h: 258 }, densityAB, channelTicks, channelTicks,
        [gateABNaive, gateABMemBlack], [gateABMemGrey]);

      heatPanels();
      coveragePanel();

      const animals = [ag14, ag28, ag302, ag32, ag33, ag38, ag39, ag43, ag45, ag49];
      const dDrawOrder = [0, 1, 2, 3, 5, 7, 9, 8, 6, 4];
      pcaPanel({ x: 110, y: 1146, w: 412, h: 275 },
        dDrawOrder.map((k) => pcaSet(animals[k], animalColors[k], animalShapes[k], animalShapes[k] === "rect" ? 11.5 : 11)),
        pc1Ticks, pc2Ticks, [-0.17, -0.11], [-0.3, 0.3], (v) => v.toFixed(2), (v) => v.toFixed(1), 20);
      pcaPanel({ x: 821, y: 1152, w: 411, h: 274 },
        [
          pcaSet(cd4NaiveMinus, cellColors[0], "circle", 13), pcaSet(cd4NaivePlus, cellColors[0], "rect", 13.5),
          pcaSet(cd4MemMinus, cellColors[1], "circle", 13), pcaSet(cd4MemPlus, cellColors[1], "rect", 13.5),
          pcaSet(abMemMinus, cellColors[4], "circle", 13), pcaSet(abMemPlus, cellColors[4], "rect", 13.5),
          pcaSet(aaMemMinus, cellColors[2], "circle", 13), pcaSet(aaMemPlus, cellColors[2], "rect", 13.5),
          pcaSet(abNaiveMinus, cellColors[3], "circle", 13), pcaSet(abNaivePlus, cellColors[3], "rect", 13.5),
        ],
        ePc2Ticks, pc3Ticks, [-0.3, 0.3], [-0.4, 0.4], (v) => (v === 0 ? "0.0" : v.toFixed(1)), (v) => (v === 0 ? "0.0" : v.toFixed(1)), 21);

      // panel letters
      label("A", 16, 17, 48); label("B", 16, 418, 48); label("C", 861, 418, 48); label("D", 17, 1090, 48); label("E", 723, 1090, 48);

      // panel A text
      const veil = document.createElement("div");
      veil.className = "mk";
      veil.style.cssText = "left:163px;top:262px;width:32px;height:46px;background:rgba(255,255,255,.78)";
      page.appendChild(veil);
      label("CD4", 45, 173, 31, { rot: -90 });
      label("CD8", 243, 368, 31);
      label("CD4<sup>+</sup>", 114, 74, 19, { left: true });
      label("26.6", 135, 98, 19);
      label("CD8αβ<sup>+</sup>", 317, 168, 19.5, { left: true });
      label("43.6", 356, 190, 19);
      label("CD8αα<sup>+</sup>", 120, 273, 19.5, { left: true });
      label("18.9", 165, 297, 19);
      label("CD4<sup>+</sup>", 636, 48, 27);
      label("CD8αα<sup>+</sup>", 974, 47, 27.5);
      label("CD8αβ<sup>+</sup>", 1296, 47, 27.5);
      [[459, 636, 366], [786, 970, 363], [1114, 1299, 363]].forEach(([yx, xx, xy]) => {
        label("CD28", yx, 188, 28, { rot: -90 });
        label("CD95", xx, xy, 28);
      });
      label("CD4<sup>+</sup> 28<sup>+</sup> Memory", 677, 81, 18);
      label("15.5", 680, 107, 18);
      label("CD4<sup>+</sup> Naive", 513, 231, 18, { left: true });
      label("84.2", 555, 253, 18);
      label("CD8αα<sup>+</sup> 28<sup>+</sup> Memory", 996, 81, 18.2);
      label("72.3", 998, 107, 18);
      label("CD8αβ<sup>+</sup> 28<sup>+</sup> Memory", 1321, 81, 18.2);
      label("46.4", 1325, 107, 18);
      label("CD8αβ Naive", 1168, 232, 18, { left: true });
      label("27.1", 1209, 255, 18);

      // arrow between the CD8 plot and the memory plots
      const arrow = document.createElementNS("http://www.w3.org/2000/svg", "svg");
      arrow.setAttribute("width", "100");
      arrow.setAttribute("height", "40");
      arrow.style.cssText = "position:absolute;left:365px;top:80px";
      arrow.innerHTML = '<path d="M4 20 H91 M78 5 L91 20 L78 35" fill="none" stroke="#222" stroke-width="2.8"/>';
      page.appendChild(arrow);

      // panel B text
      panelCentres.forEach((x, i) => {
        label(panelDonors[i], x, 461, 16.8);
        label(panelNames[i], x, 481, 16.8);
      });
      label("genes", 71, 800, 4.5, { rot: -90, color: "#444" });
      label("genes", 771, 507, 5, { color: "#444", left: false });
      const legendLine = document.createElement("div");
      legendLine.className = "mk";
      legendLine.style.cssText = "left:748px;top:506.5px;width:13px;height:1px;background:#2b3a94";
      page.appendChild(legendLine);

      // panel C text
      label("Frequency", 917, 738, 22, { rot: -90 });
      label("Genomic Region (5'-&gt;3')", 1160, 1033, 22.5);

      // panel D and E text
      label("PC1 (84%)", 320, 1481, 24, { bold: true });
      label("PC2 (6%)", 36, 1281, 24, { bold: true, rot: -90 });
      label("PC2 (6%)", 1033, 1488, 24, { bold: true });
      label("PC3 (2%)", 749, 1290, 24, { bold: true, rot: -90 });

      function marker(x, y, size, shape, color, border) {
        const el = document.createElement("div");
        el.className = "mk";
        el.style.left = x - size / 2 + "px";
        el.style.top = y - size / 2 + "px";
        el.style.width = el.style.height = size + "px";
        el.style.background = color;
        el.style.border = border;
        if (shape === "circle") el.style.borderRadius = "50%";
        page.appendChild(el);
      }
      const dLegendRows = [1155, 1182, 1209, 1235, 1262, 1289, 1316, 1342, 1369, 1396];
      animalNames.forEach((name, i) => {
        const isRect = animalShapes[i] === "rect";
        marker(574, dLegendRows[i], 12, animalShapes[i], animalColors[i], isRect ? "1.5px solid rgba(60,60,60,.55)" : "1px solid #333");
        label(name, 605, dLegendRows[i], 21, { left: true });
      });
      marker(574, 1421, 17, "rect", "transparent", "3.6px solid #222");
      marker(574, 1446, 17, "circle", "transparent", "3.6px solid #444");
      label("SIV+", 607, 1421, 20.5, { left: true });
      label("SIV-", 608, 1444, 20.5, { left: true });

      const eLegendRows = [1167, 1206, 1244, 1283, 1321];
      cellNames.forEach((name, i) => {
        marker(1268, eLegendRows[i], 14, "rect", cellColors[i], "1.5px solid rgba(60,60,60,.55)");
        label(name, 1299, eLegendRows[i], 20.8, { left: true });
      });
      marker(1268, 1357, 15, "rect", "transparent", "3.4px solid #222");
      marker(1268, 1396, 15, "circle", "transparent", "3.4px solid #444");
      label("SIV+", 1300, 1357, 20, { left: true });
      label("SIV-", 1301, 1395, 20, { left: true });
    </script>
  </body>
</html>
